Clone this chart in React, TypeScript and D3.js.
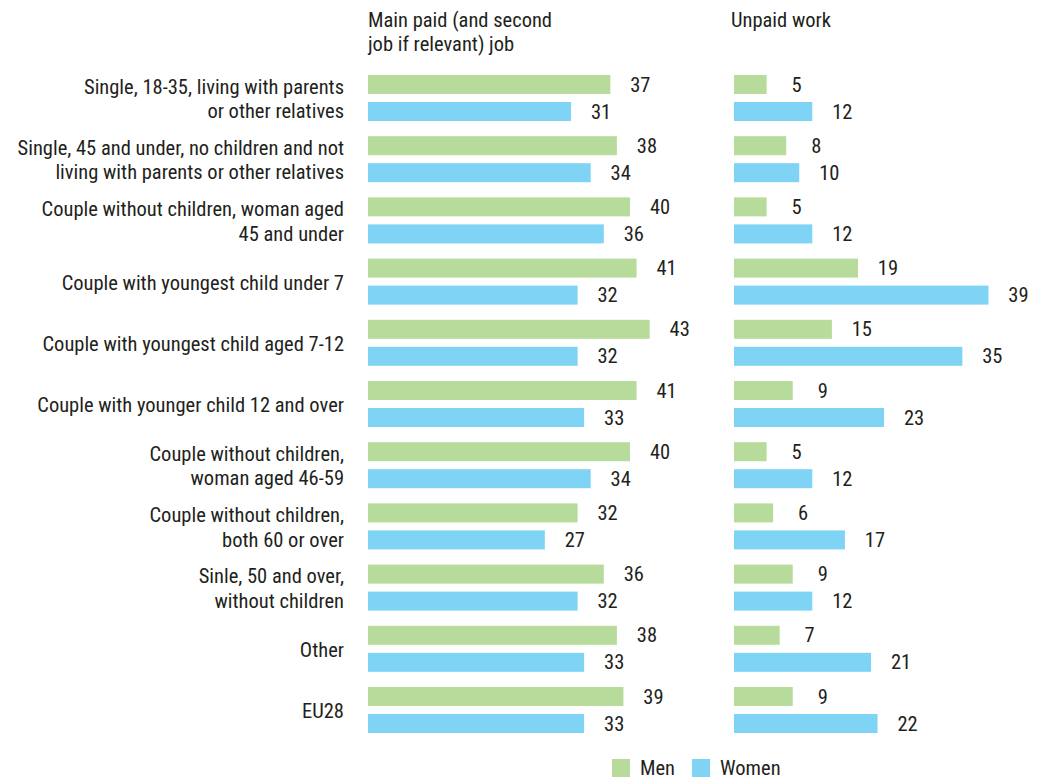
import React from "react";
import * as d3 from "d3";

const categories: string[][] = [
  ["Single, 18-35, living with parents", "or other relatives"],
  ["Single, 45 and under, no children and not", "living with parents or other relatives"],
  ["Couple without children, woman aged", "45 and under"],
  ["Couple with youngest child under 7"],
  ["Couple with youngest child aged 7-12"],
  ["Couple with younger child 12 and over"],
  ["Couple without children,", "woman aged 46-59"],
  ["Couple without children,", "both 60 or over"],
  ["Sinle, 50 and over,", "without children"],
  ["Other"],
  ["EU28"],
];

const paidMen = [37, 38, 40, 41, 43, 41, 40, 32, 36, 38, 39];
const paidWomen = [31, 34, 36, 32, 32, 33, 34, 27, 32, 33, 33];
const unpaidMen = [5, 8, 5, 19, 15, 9, 5, 6, 9, 7, 9];
const unpaidWomen = [12, 10, 12, 39, 35, 23, 12, 17, 12, 21, 22];

const seriesNames = ["Men", "Women"];
const colors = ["#b6db9b", "#7fd3f5"];
const panelTitles = [["Main paid (and second", "job if relevant) job"], ["Unpaid work"]];

const FONT = "'Roboto Condensed', 'Liberation Sans Narrow', 'DejaVu Sans Condensed', Roboto, sans-serif";
const TEXT = "#231f20";
const FS = 20.5;

export default function App() {
  const W = 1051;
  const H = 779;
  const ids = categories.map((_, i) => String(i));
  const y = d3.scaleBand<string>().domain(ids).range([75, 75 + 11 * 61.2]).padding(0);
  const ySub = d3.scaleBand<string>().domain(seriesNames).range([0, 46]).paddingInner(8 / 27).paddingOuter(0);
  const xPaid = d3.scaleLinear().domain([0, 40]).range([368, 368 + 262]);
  const xUnpaid = d3.scaleLinear().domain([0, 40]).range([734, 734 + 261]);

  const panels = [
    { x: xPaid, data: [paidMen, paidWomen], titleX: 368 },
    { x: xUnpaid, data: [unpaidMen, unpaidWomen], titleX: 731 },
  ];

  return (
    <svg width={W} height={H} style={{ position: "absolute", left: 0, top: 0, fontFamily: FONT }}>
      {panelTitles.map((lines, p) => (
        <text key={"t" + p} x={panels[p].titleX} y={27} fontSize={FS} fill={TEXT}>
          {lines.map((l, k) => (
            <tspan key={k} x={panels[p].titleX} dy={k === 0 ? 0 : 24}>
              {l}
            </tspan>
          ))}
        </text>
      ))}
      {categories.map((lines, i) => {
        const y0 = y(ids[i])!;
        const mid = y0 + 23;
        const lh = 24.5;
        const first = mid - ((lines.length - 1) * lh) / 2 + 8;
        return (
          <text key={"c" + i} textAnchor="end" fontSize={FS} fill={TEXT}>
            {lines.map((l, k) => (
              <tspan key={k} x={344} y={first + k * lh}>
                {l}
              </tspan>
            ))}
          </text>
        );
      })}
      {panels.map((panel, p) =>
        panel.data.map((vals, s) =>
          vals.map((v, i) => {
            const by = y(ids[i])! + ySub(seriesNames[s])!;
            const bh = ySub.bandwidth();
            const x0 = panel.x(0);
            const x1 = panel.x(v);
            return (
              <g key={`${p}-${s}-${i}`}>
                <rect x={x0} y={by} width={x1 - x0} height={bh} fill={colors[s]} />
                <text x={x1 + 30} y={by + bh / 2 + 7} textAnchor="middle" fontSize={FS} fill={TEXT}>
                  {v}
                </text>
              </g>
            );
          })
        )
      )}
      {seriesNames.map((name, s) => {
        const lx = [612, 692][s];
        return (
          <g key={"l" + s}>
            <rect x={lx} y={759} width={18} height={18} fill={colors[s]} />
            <text x={lx + 28} y={775} fontSize={FS} fill={TEXT}>
              {name}
            </text>
          </g>
        );
      })}
    </svg>
  );
}
